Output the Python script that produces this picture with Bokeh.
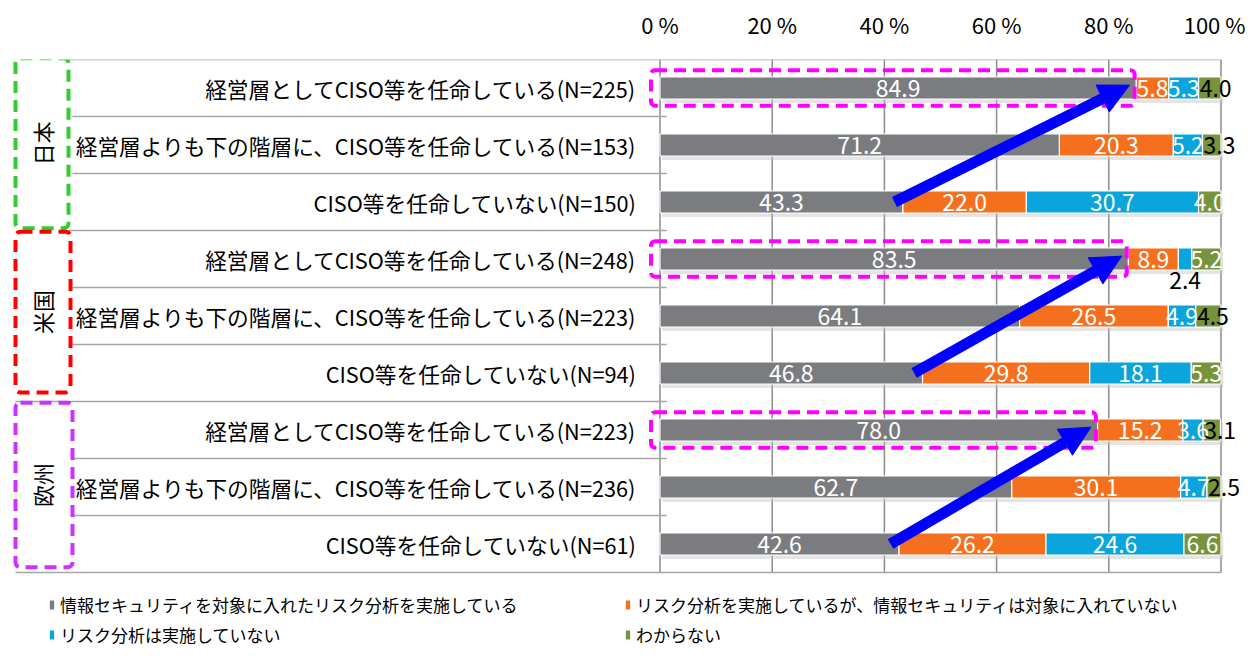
import math
from bokeh.plotting import figure
from bokeh.models import (ColumnDataSource, Range1d, FixedTicker, Legend, LegendItem,
                          Arrow, NormalHead)
from bokeh.core.properties import value
from bokeh.embed import file_html
from bokeh.resources import INLINE

# ---------------- data ----------------
groups = ["日本", "米国", "欧州"]
categories = [
    "経営層としてCISO等を任命している(N=225)",
    "経営層よりも下の階層に、CISO等を任命している(N=153)",
    "CISO等を任命していない(N=150)",
    "経営層としてCISO等を任命している(N=248)",
    "経営層よりも下の階層に、CISO等を任命している(N=223)",
    "CISO等を任命していない(N=94)",
    "経営層としてCISO等を任命している(N=223)",
    "経営層よりも下の階層に、CISO等を任命している(N=236)",
    "CISO等を任命していない(N=61)",
]
series_names = [
    "情報セキュリティを対象に入れたリスク分析を実施している",
    "リスク分析を実施しているが、情報セキュリティは対象に入れていない",
    "リスク分析は実施していない",
    "わからない",
]
with_security = [84.9, 71.2, 43.3, 83.5, 64.1, 46.8, 78.0, 62.7, 42.6]
without_security = [5.8, 20.3, 22.0, 8.9, 26.5, 29.8, 15.2, 30.1, 26.2]
not_done = [5.3, 5.2, 30.7, 2.4, 4.9, 18.1, 3.6, 4.7, 24.6]
unknown = [4.0, 3.3, 4.0, 5.2, 4.5, 5.3, 3.1, 2.5, 6.6]
tick_values = [0, 20, 40, 60, 80, 100]
tick_labels = ["0 %", "20 %", "40 %", "60 %", "80 %", "100 %"]

# ---------------- styles ----------------
colors = ["#7b7c80", "#f5701e", "#0aa5dc", "#77933c"]
group_colors = ["#33cc33", "#ff0000", "#cc33ff"]
FONT = value("Noto Sans CJK JP")
unknown_label_outside = [True, True, False, False, True, False, True, True, False]
notdone_label_below = [False, False, False, True, False, False, False, False, False]

series = [with_security, without_security, not_done, unknown]
n = len(categories)
ys = [-i for i in range(n)]

W, H = 1245, 650
PX = 5.61          # pixels per percent
X0 = 659.5         # pixel position of 0 %
p = figure(width=W, height=H,
           x_range=Range1d(-X0 / PX, (W - X0) / PX), y_range=Range1d(0.5 - 591 / 57, 0.5),
           x_axis_location="above", y_axis_location=None,
           output_backend="svg", toolbar_location=None,
           min_border_left=0, min_border_right=0, min_border_top=59, min_border_bottom=0,
           outline_line_color=None, background_fill_color="white")
p.xgrid.grid_line_color = None
p.ygrid.grid_line_color = None

ax = p.xaxis[0]
ax.ticker = FixedTicker(ticks=tick_values)
ax.major_label_overrides = {v: l for v, l in zip(tick_values, tick_labels)}
ax.axis_line_color = None
ax.major_tick_line_color = None
ax.minor_tick_line_color = None
ax.major_label_text_font = "Noto Sans CJK JP"
ax.major_label_text_font_size = "22px"
ax.major_label_text_color = "#000000"
ax.major_label_standoff = 14


def px(xp):
    return (xp - X0) / PX


# ---------------- grid & separators ----------------
top = 0.5
bottom = 0.5 - n
p.segment(x0=tick_values, x1=tick_values, y0=[top] * len(tick_values),
          y1=[bottom] * len(tick_values), line_color="#8c8c8c", line_width=1.5)

sep_x0, sep_x1, sep_y = [], [], []
for k in range(n + 1):
    yb = 0.5 - k
    if k == 0:
        sep_x0.append(px(68)); sep_x1.append(100)
    elif k == n:
        sep_x0.append(px(15)); sep_x1.append(100)
    elif k % 3 == 0:
        sep_x0.append(px(68) if k == 3 else px(15)); sep_x1.append(1.2)
    else:
        sep_x0.append(px(72)); sep_x1.append(1.2)
    sep_y.append(yb)
p.segment(x0=sep_x0, x1=sep_x1, y0=sep_y, y1=sep_y, line_color="#a6a6a6", line_width=1.5)

# ---------------- bars ----------------
BAR_H = 0.386
p.hbar(y=[y - 0.07 for y in ys], left=0.4, right=100.4, height=BAR_H,
       fill_color="#c4c4c4", fill_alpha=0.45, line_color=None)

src = ColumnDataSource(dict(y=ys, s0=with_security, s1=without_security, s2=not_done, s3=unknown))
renderers = p.hbar_stack(["s0", "s1", "s2", "s3"], y="y", height=BAR_H, color=colors,
                         line_color="white", line_width=1.2, source=src)

# ---------------- data labels ----------------
white_x, white_y, white_t = [], [], []
black_l_x, black_l_y, black_l_t = [], [], []
below_x, below_y, below_t = [], [], []
for i in range(n):
    left = 0.0
    for s_idx, s in enumerate(series):
        v = s[i]
        txt = f"{v:.1f}"
        if s_idx == 3 and unknown_label_outside[i]:
            black_l_x.append(left + 0.2); black_l_y.append(ys[i]); black_l_t.append(txt)
        elif s_idx == 2 and notdone_label_below[i]:
            below_x.append(left + v / 2); below_y.append(ys[i]); below_t.append(txt)
        else:
            white_x.append(left + v / 2); white_y.append(ys[i]); white_t.append(txt)
        left += v

LBL = "23px"
p.text(x=white_x, y=white_y, text=white_t, text_color="white", text_align="center",
       text_baseline="middle", text_font=FONT, text_font_size=LBL)
p.text(x=black_l_x, y=black_l_y, text=black_l_t, text_color="black", text_align="left",
       text_baseline="middle", text_font=FONT, text_font_size=LBL)
p.text(x=below_x, y=below_y, text=below_t, text_color="black", text_align="center",
       text_baseline="middle", text_font=FONT, text_font_size=LBL, y_offset=21)

# ---------------- category labels ----------------
p.text(x=[px(636)] * n, y=ys, text=categories, text_color="black", text_align="right",
       text_baseline="middle", text_font=FONT, text_font_size="21.7px")

# ---------------- group boxes ----------------
top_inset = [-0.02, 0.02, 0.02]
bottom_inset = [0.04, 0.16, 0.09]
box_right = [px(68), px(70), px(72)]
for g, name in enumerate(groups):
    gtop = 0.5 - 3 * g - top_inset[g]
    gbot = 0.5 - 3 * (g + 1) + bottom_inset[g]
    p.quad(left=px(15), right=box_right[g], top=gtop, bottom=gbot, fill_color=None,
           line_color=group_colors[g], line_width=4, line_dash="12 7", border_radius=5)
    p.text(x=[px(41)], y=[(gtop + gbot) / 2], text=[name], angle=math.pi / 2,
           text_color="black", text_align="center", text_baseline="middle",
           text_font=FONT, text_font_size="22px")

# ---------------- highlights & arrows ----------------
for g in range(3):
    r_top = 3 * g
    r_bot = 3 * g + 2
    p.quad(left=-1.6, right=with_security[r_top] - 0.3, top=ys[r_top] + 0.31,
           bottom=ys[r_top] - 0.31, fill_color=None, line_color="#ff00ff",
           line_width=4, line_dash="12 7", border_radius=4)
    p.add_layout(Arrow(x_start=with_security[r_bot] - 1.5, y_start=ys[r_bot],
                       x_end=with_security[r_top] - 1.2, y_end=ys[r_top] + 0.05,
                       line_color="#0000ff", line_width=11,
                       end=NormalHead(size=30, fill_color="#0000ff", line_color="#0000ff")))

# ---------------- legend ----------------
legend = Legend(items=[LegendItem(label=nm, renderers=[r]) for nm, r in zip(series_names, renderers)],
                location=(48, 3), orientation="horizontal", ncols=2,
                glyph_width=7, glyph_height=13, label_standoff=5,
                label_width=559, label_height=20, spacing=5, padding=0, margin=0,
                border_line_color=None, background_fill_alpha=0,
                label_text_font="Noto Sans CJK JP", label_text_font_size="17px",
                label_text_color="#000000")
p.add_layout(legend)

open("out.html", "w").write(file_html(p, INLINE))
